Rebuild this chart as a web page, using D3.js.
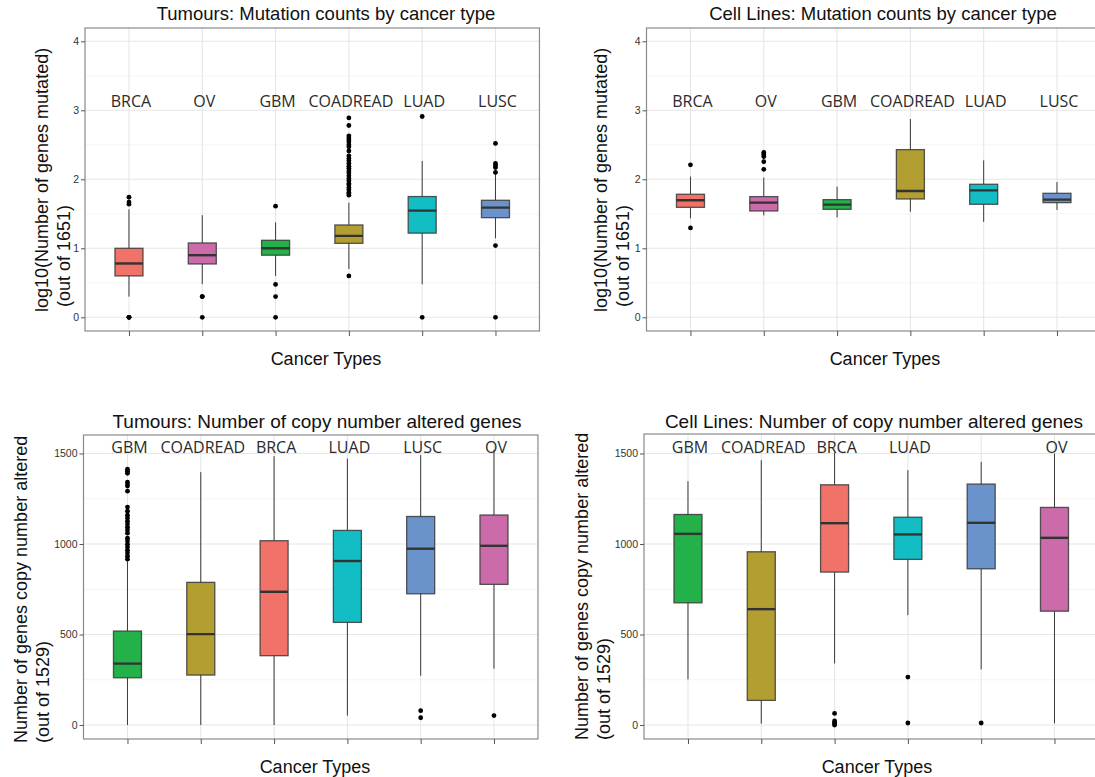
<!DOCTYPE html>
<html>
<head>
<meta charset="utf-8">
<script src="https://cdn.jsdelivr.net/npm/d3@7"></script>
<style>
  body { margin: 0; background: #fff; }
  svg { display: block; }
</style>
</head>
<body>
<div id="vis"></div>
<script>
const typeColors = {
    BRCA: "#F07268",
    OV: "#CB6BA9",
    GBM: "#23B14A",
    COADREAD: "#B39E32",
    LUAD: "#13BDC4",
    LUSC: "#6B93CB"
};

// top row: log10 mutation counts, boxes are [low whisker, q1, median, q3, high whisker]
const mutTypes = ["BRCA", "OV", "GBM", "COADREAD", "LUAD", "LUSC"];
const mutTicks = [0, 1, 2, 3, 4];

const tumourMutBoxes = [
    [0.30, 0.60, 0.78, 1.00, 1.565],
    [0.48, 0.773, 0.90, 1.077, 1.48],
    [0.60, 0.90, 1.00, 1.116, 1.377],
    [0.70, 1.072, 1.18, 1.338, 1.66],
    [0.478, 1.22, 1.546, 1.75, 2.266],
    [1.145, 1.444, 1.59, 1.696, 2.087]
];
const tumourMutOutliers = [
    [0, 0, 0, 1.64, 1.67, 1.74],
    [0, 0.30, 0.30],
    [0, 0.30, 0.477, 1.61],
    [0.60, 1.77, 1.79, 1.81, 1.85, 1.88, 1.92, 1.94, 1.98, 2.01, 2.05, 2.09, 2.12, 2.16, 2.19, 2.23,
     2.27, 2.30, 2.34, 2.41, 2.47, 2.50, 2.54, 2.57, 2.60, 2.63, 2.78, 2.89],
    [0, 2.91],
    [0, 1.04, 2.10, 2.17, 2.20, 2.23, 2.52]
];

const cellMutBoxes = [
    [1.435, 1.594, 1.696, 1.783, 2.04],
    [1.478, 1.541, 1.662, 1.749, 2.024],
    [1.449, 1.565, 1.633, 1.705, 1.894],
    [1.531, 1.715, 1.83, 2.43, 2.874],
    [1.382, 1.638, 1.84, 1.928, 2.275],
    [1.556, 1.662, 1.705, 1.797, 1.96]
];
const cellMutOutliers = [
    [1.295, 2.21],
    [2.145, 2.256, 2.33, 2.36, 2.39],
    [], [], [], []
];

// bottom row: copy number altered genes
const cnaTypes = ["GBM", "COADREAD", "BRCA", "LUAD", "LUSC", "OV"];
const cnaTicks = [0, 500, 1000, 1500];
const cellCnaLabels = ["GBM", "COADREAD", "BRCA", "LUAD", "", "OV"];

const tumourCnaBoxes = [
    [0, 261, 339, 519, 905],
    [0, 276, 502, 788, 1397],
    [0, 383, 736, 1018, 1485],
    [52, 567, 906, 1075, 1472],
    [272, 725, 974, 1152, 1491],
    [311, 777, 990, 1160, 1520]
];
const tumourCnaOutliers = [
    [916, 933, 950, 966, 983, 999, 1016, 1032, 1060, 1077, 1093, 1110, 1126, 1143, 1159, 1181, 1204,
     1292, 1320, 1331, 1342, 1391, 1402, 1413],
    [], [], [],
    [40, 79],
    [52]
];

const cellCnaBoxes = [
    [252, 675, 1056, 1163, 1347],
    [7, 136, 640, 957, 1463],
    [340, 845, 1115, 1327, 1504],
    [607, 915, 1053, 1148, 1408],
    [307, 863, 1117, 1331, 1454],
    [9, 629, 1034, 1202, 1500]
];
const cellCnaOutliers = [
    [], [],
    [0, 6, 13, 22, 64],
    [11, 265],
    [11],
    []
];

const W = 1095, H = 777;
const svg = d3.select("#vis").append("svg")
    .attr("width", W)
    .attr("height", H);

const panels = [
    {
        title: "Tumours: Mutation counts by cancer type", titleX: 326, titleY: 20, titleSize: 18.5,
        left: 85, top: 28, bottom: 331, y0: 317.3, y1: 41.3, yDomain: [0, 4],
        ticks: mutTicks, minor: [0.5, 1.5, 2.5, 3.5],
        cats: mutTypes, labels: mutTypes, labelY: 107,
        boxes: tumourMutBoxes, outliers: tumourMutOutliers,
        yTitle: ["log10(Number of genes mutated)", " (out of 1651)"], yTitleX: 48, yTitleStart: 312,
        xTitleX: 326, xTitleY: 365
    },
    {
        title: "Cell Lines: Mutation counts by cancer type", titleX: 883, titleY: 20, titleSize: 18.5,
        left: 646.5, top: 28, bottom: 331, y0: 317.3, y1: 41.3, yDomain: [0, 4],
        ticks: mutTicks, minor: [0.5, 1.5, 2.5, 3.5],
        cats: mutTypes, labels: mutTypes, labelY: 107,
        boxes: cellMutBoxes, outliers: cellMutOutliers,
        yTitle: ["log10(Number of genes mutated)", " (out of 1651)"], yTitleX: 607, yTitleStart: 312,
        xTitleX: 885, xTitleY: 365
    },
    {
        title: "Tumours: Number of copy number altered genes", titleX: 317, titleY: 428, titleSize: 19,
        left: 83.5, top: 435, bottom: 739, y0: 725, y1: 453.5, yDomain: [0, 1500],
        ticks: cnaTicks, minor: [250, 750, 1250],
        cats: cnaTypes, labels: cnaTypes, labelY: 453,
        boxes: tumourCnaBoxes, outliers: tumourCnaOutliers,
        yTitle: ["Number of genes copy number altered", "(out of 1529)"], yTitleX: 27, yTitleStart: 743,
        xTitleX: 315, xTitleY: 773
    },
    {
        title: "Cell Lines: Number of copy number altered genes", titleX: 874, titleY: 428, titleSize: 19,
        left: 644, top: 434, bottom: 739, y0: 725, y1: 453.5, yDomain: [0, 1500],
        ticks: cnaTicks, minor: [250, 750, 1250],
        cats: cnaTypes, labels: cellCnaLabels, labelY: 453,
        boxes: cellCnaBoxes, outliers: cellCnaOutliers,
        yTitle: ["Number of genes copy number altered", "(out of 1529)"], yTitleX: 588, yTitleStart: 740,
        xTitleX: 877, xTitleY: 773
    }
];

const STEP = 73.3;
const BOX_W = 28;

panels.forEach(p => {
    const right = p.left + STEP * 6.2;
    const g = svg.append("g");

    const x = d3.scalePoint()
        .domain(p.cats)
        .range([p.left, right])
        .padding(0.6);

    const y = d3.scaleLinear()
        .domain(p.yDomain)
        .range([p.y0, p.y1]);

    // clip so the right hand panels get cut at the page edge like the reference
    const clipId = "clip" + Math.round(p.left) + "_" + p.top;
    svg.append("clipPath").attr("id", clipId)
        .append("rect")
        .attr("x", p.left).attr("y", p.top)
        .attr("width", right - p.left).attr("height", p.bottom - p.top);

    const inner = g.append("g").attr("clip-path", `url(#${clipId})`);

    // minor grid
    inner.selectAll(".minor").data(p.minor).join("line")
        .attr("x1", p.left).attr("x2", right)
        .attr("y1", d => y(d)).attr("y2", d => y(d))
        .attr("stroke", "#f4f4f4").attr("stroke-width", 1);

    // major grid
    inner.selectAll(".major").data(p.ticks).join("line")
        .attr("x1", p.left).attr("x2", right)
        .attr("y1", d => y(d)).attr("y2", d => y(d))
        .attr("stroke", "#e6e6e6").attr("stroke-width", 1.1);

    inner.selectAll(".vgrid").data(p.cats).join("line")
        .attr("x1", d => x(d)).attr("x2", d => x(d))
        .attr("y1", p.top).attr("y2", p.bottom)
        .attr("stroke", "#e6e6e6").attr("stroke-width", 1.1);

    const rows = p.cats.map((c, i) => ({ cat: c, s: p.boxes[i], out: p.outliers[i] }));

    // whiskers
    inner.selectAll(".whisk").data(rows).join("line")
        .attr("x1", d => x(d.cat)).attr("x2", d => x(d.cat))
        .attr("y1", d => y(d.s[0])).attr("y2", d => y(d.s[4]))
        .attr("stroke", "#3a3a3a").attr("stroke-width", 1);

    // boxes
    inner.selectAll(".box").data(rows).join("rect")
        .attr("x", d => x(d.cat) - BOX_W / 2)
        .attr("width", BOX_W)
        .attr("y", d => y(d.s[3]))
        .attr("height", d => y(d.s[1]) - y(d.s[3]))
        .attr("fill", d => typeColors[d.cat])
        .attr("stroke", "#3a3a3a")
        .attr("stroke-opacity", 0.85)
        .attr("stroke-width", 1.3);

    inner.selectAll(".med").data(rows).join("line")
        .attr("x1", d => x(d.cat) - BOX_W / 2).attr("x2", d => x(d.cat) + BOX_W / 2)
        .attr("y1", d => y(d.s[2])).attr("y2", d => y(d.s[2]))
        .attr("stroke", "#333").attr("stroke-width", 2.4);

    // outliers
    const pts = rows.flatMap(r => r.out.map(v => ({ cat: r.cat, v })));
    inner.selectAll(".out").data(pts).join("circle")
        .attr("cx", d => x(d.cat))
        .attr("cy", d => y(d.v))
        .attr("r", 2.4)
        .attr("fill", "#000");

    // category labels inside the panel
    inner.selectAll(".lab").data(p.cats.map((c, i) => p.labels[i])).join("text")
        .attr("x", (d, i) => x(p.cats[i]) + 2)
        .attr("y", p.labelY)
        .attr("text-anchor", "middle")
        .style("font-family", "'Open Sans', sans-serif")
        .style("font-size", "16px")
        .attr("fill", "#2b2b2b")
        .text(d => d);

    // panel border
    g.append("rect")
        .attr("x", p.left).attr("y", p.top)
        .attr("width", right - p.left).attr("height", p.bottom - p.top)
        .attr("fill", "none")
        .attr("stroke", "#8a8a8a").attr("stroke-width", 1.2);

    // y axis
    const yAxis = g.append("g")
        .attr("transform", `translate(${p.left},0)`)
        .call(d3.axisLeft(y).tickValues(p.ticks).tickSize(4).tickPadding(2).tickFormat(d3.format("d")));
    yAxis.select(".domain").remove();
    yAxis.selectAll(".tick line").attr("stroke", "#555");
    yAxis.selectAll("text")
        .style("font-family", "'Liberation Sans', Arial, sans-serif")
        .style("font-size", "10.5px")
        .attr("fill", "#333");

    // x axis ticks (no labels, categories are written inside)
    const xAxis = g.append("g")
        .attr("transform", `translate(0,${p.bottom})`)
        .call(d3.axisBottom(x).tickSize(5).tickFormat(""));
    xAxis.select(".domain").remove();
    xAxis.selectAll(".tick line").attr("stroke", "#555");

    // titles
    g.append("text")
        .attr("x", p.titleX).attr("y", p.titleY)
        .attr("text-anchor", "middle")
        .style("font-family", "'Liberation Sans', Arial, sans-serif")
        .style("font-size", p.titleSize + "px")
        .attr("fill", "#111")
        .text(p.title);

    g.append("text")
        .attr("x", p.xTitleX).attr("y", p.xTitleY)
        .attr("text-anchor", "middle")
        .style("font-family", "'Liberation Sans', Arial, sans-serif")
        .style("font-size", "18px")
        .attr("fill", "#111")
        .text("Cancer Types");

    const yt = g.append("text")
        .attr("transform", `translate(${p.yTitleX},${p.yTitleStart}) rotate(-90)`)
        .attr("text-anchor", "start")
        .style("font-family", "'Liberation Sans', Arial, sans-serif")
        .style("font-size", "18px")
        .style("white-space", "pre")
        .attr("fill", "#111");
    yt.append("tspan").attr("x", 0).attr("y", 0).text(p.yTitle[0]);
    yt.append("tspan").attr("x", 0).attr("dy", 22).text(p.yTitle[1]);
});
</script>
</body>
</html>
